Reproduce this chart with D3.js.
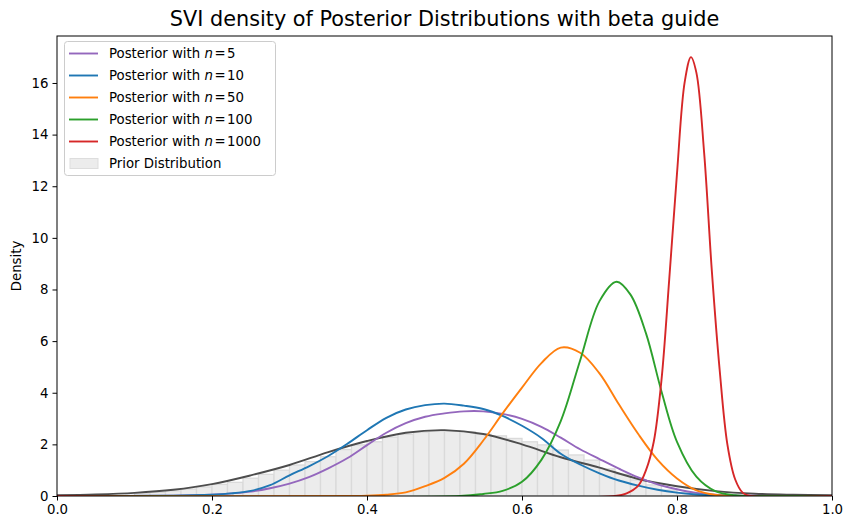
<!DOCTYPE html>
<html>
<head>
<meta charset="utf-8">
<script src="https://cdn.jsdelivr.net/npm/d3@7"></script>
<style>
  body { margin: 0; background: #fff; }
  svg { display: block; font-family: "DejaVu Sans", sans-serif; }
</style>
</head>
<body>
<svg id="chart" width="853" height="530"></svg>
<script>
// ---------- data ----------
const chartTitle = "SVI density of Posterior Distributions with beta guide";
const yLabel = "Density";
const xTicks = [0.0, 0.2, 0.4, 0.6, 0.8, 1.0];
const yTicks = [0, 2, 4, 6, 8, 10, 12, 14, 16];

// prior histogram (left bin edges, bin width 0.02) and heights
const priorBinStart = [0.10,0.12,0.14,0.16,0.18,0.20,0.22,0.24,0.26,0.28,0.30,0.32,0.34,0.36,0.38,0.40,0.42,0.44,0.46,0.48,0.50,0.52,0.54,0.56,0.58,0.60,0.62,0.64,0.66,0.68,0.70,0.72,0.74,0.76,0.78,0.80,0.82,0.84];
const priorBinHeight = [0.10,0.14,0.20,0.27,0.35,0.45,0.53,0.69,0.84,1.00,1.20,1.33,1.52,1.80,1.98,2.10,2.28,2.39,2.47,2.52,2.52,2.49,2.39,2.33,2.23,2.10,1.98,1.78,1.59,1.39,1.05,0.84,0.62,0.43,0.23,0.13,0.08,0.05];
const priorBinWidth = 0.02;

// prior KDE line
const priorX = [0,0.05,0.1,0.15,0.2,0.25,0.3,0.35,0.4,0.45,0.5,0.55,0.6,0.65,0.7,0.75,0.8,0.85,0.9,0.95,1.0];
const priorY = [0.03,0.06,0.12,0.24,0.46,0.80,1.20,1.70,2.13,2.45,2.55,2.40,2.00,1.50,1.10,0.66,0.38,0.19,0.09,0.05,0.03];

// posteriors
const n5X = [0,0.15,0.2,0.225,0.25,0.275,0.3,0.325,0.35,0.375,0.4,0.425,0.45,0.475,0.5,0.525,0.55,0.575,0.6,0.625,0.65,0.675,0.7,0.725,0.75,0.775,0.8,0.825,0.85,0.9,1.0];
const n5Y = [0,0.01,0.05,0.10,0.17,0.30,0.48,0.73,1.07,1.47,1.97,2.45,2.82,3.07,3.20,3.28,3.28,3.18,2.99,2.68,2.26,1.81,1.43,1.06,0.72,0.45,0.26,0.12,0.05,0.01,0];

const n10X = [0,0.15,0.2,0.225,0.25,0.275,0.3,0.325,0.35,0.375,0.4,0.425,0.45,0.475,0.5,0.525,0.55,0.575,0.6,0.625,0.65,0.675,0.7,0.725,0.75,0.775,0.8,0.825,0.85,0.9,1.0];
const n10Y = [0,0.01,0.05,0.10,0.20,0.42,0.80,1.15,1.55,2.03,2.55,3.03,3.35,3.52,3.58,3.50,3.37,3.10,2.72,2.25,1.64,1.22,0.88,0.60,0.40,0.24,0.13,0.06,0.02,0,0];

const n50X = [0,0.38,0.4,0.425,0.45,0.475,0.5,0.525,0.55,0.575,0.6,0.625,0.65,0.675,0.7,0.725,0.75,0.775,0.8,0.825,0.85,0.875,1.0];
const n50Y = [0,0,0.01,0.05,0.14,0.38,0.70,1.25,2.15,3.20,4.20,5.15,5.75,5.55,4.75,3.55,2.40,1.40,0.68,0.22,0.04,0,0];

const n100X = [0,0.52,0.55,0.575,0.6,0.625,0.65,0.675,0.7,0.722,0.74,0.76,0.78,0.8,0.825,0.85,0.875,0.9,1.0];
const n100Y = [0,0,0.08,0.20,0.55,1.40,2.90,5.25,7.55,8.30,7.80,6.30,4.05,2.10,0.75,0.18,0.03,0,0];

const n1000X = [0,0.72,0.735,0.75,0.76,0.77,0.78,0.79,0.8,0.81,0.818,0.825,0.835,0.845,0.855,0.865,0.875,0.885,0.895,1.0];
const n1000Y = [0,0,0.10,0.40,1.00,2.10,4.50,8.40,12.50,16.05,17.00,16.40,13.30,8.70,4.90,2.00,0.65,0.12,0,0];

const seriesNames = ["5", "10", "50", "100", "1000"];
const seriesX = [n5X, n10X, n50X, n100X, n1000X];
const seriesY = [n5Y, n10Y, n50Y, n100Y, n1000Y];
const seriesColors = ["#9467bd", "#1f77b4", "#ff7f0e", "#2ca02c", "#d62728"];

// ---------- layout ----------
const svg = d3.select("#chart");
const L = 57, R = 832, T = 36, B = 496;
const x = d3.scaleLinear().domain([0, 1]).range([L, R]);
const y = d3.scaleLinear().domain([0, 17.82]).range([B, T]);

svg.append("rect").attr("width", 853).attr("height", 530).attr("fill", "#fff");

const clip = svg.append("clipPath").attr("id", "clip");
clip.append("rect").attr("x", L).attr("y", T).attr("width", R - L).attr("height", B - T);
const plot = svg.append("g").attr("clip-path", "url(#clip)");

// histogram
plot.append("g").selectAll("rect")
  .data(priorBinStart.map((s, i) => ({ s, h: priorBinHeight[i] })))
  .join("rect")
  .attr("x", d => x(d.s))
  .attr("width", d => x(d.s + priorBinWidth) - x(d.s))
  .attr("y", d => y(d.h))
  .attr("height", d => y(0) - y(d.h))
  .attr("fill", "#ececec")
  .attr("stroke", "#dadada")
  .attr("stroke-width", 1.3);

const line = d3.line()
  .x(d => x(d[0]))
  .y(d => Math.min(y(0), y(d[1])))
  .curve(d3.curveCatmullRom.alpha(0.5));

// prior KDE
plot.append("path")
  .attr("d", line(priorX.map((v, i) => [v, priorY[i]])))
  .attr("fill", "none")
  .attr("stroke", "#4d4d4d")
  .attr("stroke-width", 1.9);

// posteriors
seriesX.forEach((xs, k) => {
  plot.append("path")
    .attr("d", line(xs.map((v, i) => [v, seriesY[k][i]])))
    .attr("fill", "none")
    .attr("stroke", seriesColors[k])
    .attr("stroke-width", 1.9);
});

// axes
const fs = "13.3px";
const xAxis = svg.append("g").attr("transform", `translate(0,${B})`)
  .call(d3.axisBottom(x).tickValues(xTicks).tickFormat(d3.format(".1f")).tickSize(4.5).tickPadding(4));
const yAxis = svg.append("g").attr("transform", `translate(${L},0)`)
  .call(d3.axisLeft(y).tickValues(yTicks).tickFormat(d3.format("d")).tickSize(4.5).tickPadding(4));
[xAxis, yAxis].forEach(a => {
  a.select(".domain").remove();
  a.selectAll("line").attr("stroke", "#000").attr("stroke-width", 1);
  a.selectAll("text").attr("font-size", fs).attr("fill", "#000").attr("font-family", "DejaVu Sans");
});

// spines
svg.append("rect").attr("x", L).attr("y", T).attr("width", R - L).attr("height", B - T)
  .attr("fill", "none").attr("stroke", "#000").attr("stroke-width", 1);

// title
svg.append("text").attr("x", (L + R) / 2).attr("y", 26)
  .attr("text-anchor", "middle").attr("font-size", "20.8px").attr("fill", "#000")
  .text(chartTitle);

// y label
svg.append("text").attr("transform", `translate(21,${(T + B) / 2}) rotate(-90)`)
  .attr("text-anchor", "middle").attr("font-size", fs).attr("fill", "#000")
  .text(yLabel);

// legend
const lg = svg.append("g");
lg.append("rect").attr("x", 64.5).attr("y", 41.5).attr("width", 211).attr("height", 134)
  .attr("rx", 3).attr("fill", "#fff").attr("fill-opacity", 0.8)
  .attr("stroke", "#cccccc").attr("stroke-width", 1);
const rowY = i => 53.5 + i * 22;
seriesNames.forEach((n, i) => {
  lg.append("line").attr("x1", 69).attr("x2", 98).attr("y1", rowY(i)).attr("y2", rowY(i))
    .attr("stroke", seriesColors[i]).attr("stroke-width", 1.9);
  const t = lg.append("text").attr("x", 109).attr("y", rowY(i) + 4.7).attr("font-size", fs).attr("fill", "#000");
  t.append("tspan").text("Posterior with ");
  t.append("tspan").attr("font-style", "italic").text("n");
  t.append("tspan").attr("dx", 1.5).text("=");
  t.append("tspan").attr("dx", 1.5).text(n);
});
lg.append("rect").attr("x", 70).attr("y", rowY(5) - 5).attr("width", 28).attr("height", 10)
  .attr("fill", "#ececec").attr("stroke", "#dddddd").attr("stroke-width", 1);
lg.append("text").attr("x", 109).attr("y", rowY(5) + 4.7).attr("font-size", fs).attr("fill", "#000")
  .text("Prior Distribution");
</script>
</body>
</html>
